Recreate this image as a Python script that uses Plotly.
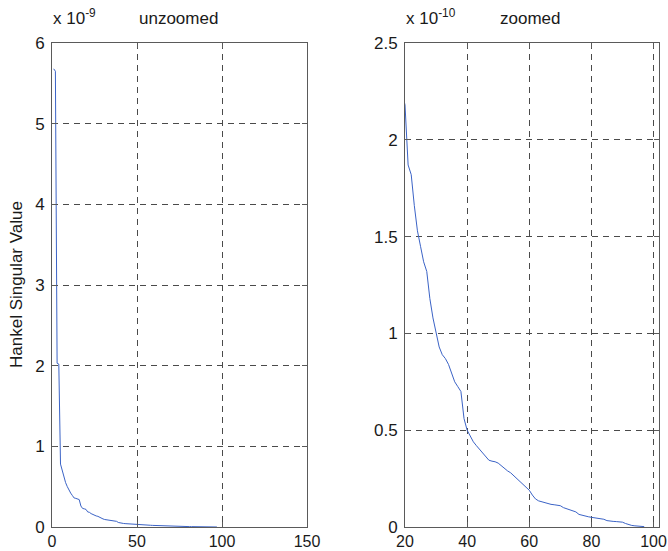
import plotly.graph_objects as go

# Hankel singular values by state index, stored in units of 1e-10
state_index = list(range(1, 98))
hsv_e10 = [
    56.8, 56.5, 20.3, 20.2, 7.8, 7.0, 6.2, 5.5, 5.0, 4.5,
    4.2, 3.9, 3.6, 3.55, 3.5, 3.4, 2.6, 2.3, 2.25, 2.18,
    1.87, 1.82, 1.66, 1.53, 1.45, 1.37, 1.32, 1.18, 1.08, 1.00,
    0.93, 0.89, 0.87, 0.84, 0.79, 0.75, 0.725, 0.70, 0.56, 0.50,
    0.47, 0.44, 0.42, 0.40, 0.38, 0.36, 0.345, 0.34, 0.337, 0.33,
    0.315, 0.30, 0.29, 0.28, 0.265, 0.25, 0.23, 0.215, 0.20, 0.19,
    0.165, 0.145, 0.135, 0.13, 0.125, 0.12, 0.117, 0.115, 0.113, 0.11,
    0.10, 0.095, 0.09, 0.087, 0.078, 0.065, 0.06, 0.056, 0.053, 0.05,
    0.048, 0.046, 0.044, 0.04, 0.033, 0.03, 0.029, 0.028, 0.027, 0.025,
    0.018, 0.012, 0.008, 0.006, 0.004, 0.003, 0.002,
]
hsv = [v * 1e-10 for v in hsv_e10]

# Axis ticks
left_xticks = [0, 50, 100, 150]
left_yticks = [0, 1, 2, 3, 4, 5, 6]            # x 1e-9
right_xticks = [20, 40, 60, 80, 100]
right_yticks = [0, 0.5, 1, 1.5, 2, 2.5]        # x 1e-10
right_ytext = ["0", "0.5", "1", "1.5", "2", "2.5"]

W, H = 668, 551
FONT = "Liberation Sans, Arial, Helvetica, sans-serif"
LINE_BLUE = "#3b63c6"
GRID = "#4a4a4a"
AXIS = "#5a5a5a"
INK = "#1a1a1a"


def px_x(p):
    return p / W


def px_y(p):
    return 1 - p / H


fig = go.Figure()
fig.add_trace(go.Scatter(x=state_index, y=hsv, mode="lines",
                         line=dict(color=LINE_BLUE, width=1),
                         xaxis="x", yaxis="y", showlegend=False))
fig.add_trace(go.Scatter(x=state_index, y=hsv, mode="lines",
                         line=dict(color=LINE_BLUE, width=1),
                         xaxis="x2", yaxis="y2", showlegend=False))

common = dict(showline=True, linecolor=AXIS, linewidth=1, mirror="allticks",
              ticks="inside", ticklen=5, tickcolor=AXIS, automargin=False,
              showgrid=True, gridcolor=GRID, gridwidth=1, griddash="6px,5px",
              zeroline=False)
xcommon = dict(common, ticklabelstandoff=0,
               tickfont=dict(family=FONT, size=16, color=INK))
ycommon = dict(common, ticklabelstandoff=3,
               tickfont=dict(family=FONT, size=17, color=INK))

ydom = [px_y(527), px_y(43)]

fig.update_layout(
    width=W, height=H,
    margin=dict(l=0, r=0, t=0, b=0, autoexpand=False),
    paper_bgcolor="white", plot_bgcolor="white",
    xaxis=dict(domain=[px_x(52), px_x(307)], range=[0, 150],
               tickvals=left_xticks, anchor="y", **xcommon),
    yaxis=dict(domain=ydom, range=[0, 6e-9],
               tickvals=[t * 1e-9 for t in left_yticks],
               ticktext=[str(t) for t in left_yticks], anchor="x", **ycommon),
    xaxis2=dict(domain=[px_x(405), px_x(658.5)], range=[20, 101.6],
                tickvals=right_xticks, anchor="y2", **xcommon),
    yaxis2=dict(domain=ydom, range=[0, 2.5e-10],
                tickvals=[t * 1e-10 for t in right_yticks],
                ticktext=right_ytext, anchor="x2", **ycommon),
)

txt = dict(family=FONT, color=INK)
annotations = [
    dict(text="unzoomed", x=px_x(179), y=px_y(19), font=dict(size=17, **txt)),
    dict(text="zoomed", x=px_x(530), y=px_y(19), font=dict(size=17, **txt)),
    dict(text="x 10<sup>-9</sup>", x=px_x(51), y=px_y(17), xanchor="left",
         font=dict(size=17, **txt)),
    dict(text="x 10<sup>-10</sup>", x=px_x(404), y=px_y(17), xanchor="left",
         font=dict(size=17, **txt)),
    dict(text="Hankel Singular Value", x=px_x(16), y=px_y(285), textangle=-90,
         font=dict(size=17, **txt)),
]
for a in annotations:
    a.update(xref="paper", yref="paper", showarrow=False,
             xanchor=a.get("xanchor", "center"), yanchor="middle")
fig.update_layout(annotations=annotations)

fig.write_html("out.html")
